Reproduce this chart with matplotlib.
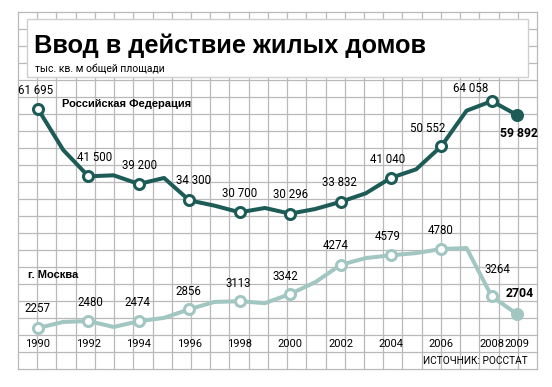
import numpy as np
import matplotlib
matplotlib.use('Agg')
import matplotlib.pyplot as plt
from matplotlib import transforms
from matplotlib.patches import Rectangle

# data, thousand sq. m of total floor area
years = list(range(1990, 2010))
russia = [61695, 49400, 41500, 41800, 39200, 41000, 34300, 32700, 30700, 32000,
          30296, 31700, 33832, 36400, 41040, 43600, 50552, 61200, 64058, 59892]
moscow = [2257, 2450, 2480, 2290, 2474, 2580, 2856, 3090, 3113, 3050,
          3342, 3720, 4274, 4490, 4579, 4650, 4780, 4810, 3264, 2704]
label_years = [1990, 1992, 1994, 1996, 1998, 2000, 2002, 2004, 2006, 2008, 2009]

title = 'Ввод в действие жилых домов'
subtitle = 'тыс. кв. м общей площади'
russia_name = 'Российская Федерация'
moscow_name = 'г. Москва'
source = 'ИСТОЧНИК: РОССТАТ'

# label offsets in pixels (dx, dy up) for each labelled year
russia_off = [(-2, 19), (6, 19), (1, 18), (4, 20), (0, 19), (0, 19),
              (-1, 19), (-3, 18), (-14, 18), (-21, 13), (2, -18)]
moscow_off = [(-1, 19), (2, 19), (-1, 19), (-1, 18), (-1, 18), (-5, 18),
              (-5, 19), (-3, 19), (-1, 19), (6, 27), (3, 21)]

dark = '#1d5b57'
light = '#a2c6c2'
grid_c = '#b9b9b9'
narrow = ['Roboto', 'DejaVu Sans']
boldf = ['Liberation Sans', 'DejaVu Sans']

W, H = 552, 387
fig = plt.figure(figsize=(W / 100, H / 100), dpi=100)

# background: graph paper + title box, in pixel coords
bg = fig.add_axes([0, 0, 1, 1])
bg.set_xlim(0, W)
bg.set_ylim(H, 0)
bg.axis('off')
gx0, gx1, gy0, gy1 = 18, 537, 12, 369
for x in np.linspace(gx0, gx1, 28):
    bg.plot([x, x], [gy0, gy1], color=grid_c, lw=0.9, zorder=0)
for y in np.linspace(gy0, gy1, 22):
    bg.plot([gx0, gx1], [y, y], color=grid_c, lw=0.9, zorder=0)
bg.add_patch(Rectangle((27, 19), 501, 58, facecolor='white', edgecolor='#cfcfcf', lw=1, zorder=1))
bg.text(34, 53, title, fontsize=18.3, fontweight='bold', family=boldf,
        va='baseline', ha='left', zorder=2)
bg.text(35, 70, subtitle, fontsize=7.5, family=narrow, va='center', ha='left', zorder=2)
bg.text(62, 104, russia_name, fontsize=8, fontweight='bold', family=boldf,
        va='center', ha='left', zorder=2)
bg.text(28, 275, moscow_name, fontsize=8, fontweight='bold', family=boldf,
        va='center', ha='left', zorder=2)
bg.text(528, 361, source, fontsize=7.3, family=narrow, va='center', ha='right', zorder=2)

# data axes: two independent value scales sharing the year axis
px_per_year = (517 - 38) / 19
xl = (1990 - 38 / px_per_year, 1990 + (W - 38) / px_per_year)

ax = fig.add_axes([0, 0, 1, 1])
ax.patch.set_alpha(0)
ax.set_xlim(*xl)
rk = 300.0
ax.set_ylim(61695 - (H - 109) * rk, 61695 + 109 * rk)
ax.axis('off')

ax2 = ax.twinx()
ax2.set_position([0, 0, 1, 1])
ax2.patch.set_alpha(0)
mk = 31.94
ax2.set_ylim(2257 - (H - 328) * mk, 2257 + 328 * mk)
ax2.axis('off')


def draw_series(a, vals, color, offs, fmt):
    a.plot(years, vals, color=color, lw=2.9, solid_joinstyle='round', zorder=3)
    lv = [vals[years.index(y)] for y in label_years]
    a.plot(label_years[:-1], lv[:-1], 'o', ms=7.2, mfc='white', mec=color, mew=2.2, zorder=4)
    a.plot(label_years[-1:], lv[-1:], 'o', ms=9.4, mfc=color, mec=color, mew=0, zorder=4)
    for i, (y, v) in enumerate(zip(label_years, lv)):
        last = i == len(label_years) - 1
        a.annotate(fmt(v), (y, v), xytext=offs[i], textcoords='offset pixels',
                   ha='center', va='center', fontsize=8.3 if not last else 8.8,
                   fontweight='bold' if last else 'normal', family=narrow, zorder=5)


draw_series(ax, russia, dark, russia_off, lambda v: f'{v:,}'.replace(',', ' '))
draw_series(ax2, moscow, light, moscow_off, lambda v: str(v))

# year labels
tr = transforms.blended_transform_factory(ax.transData, bg.transData)
for y in label_years:
    ax.text(y, 344, str(y), transform=tr, ha='center', va='center', fontsize=8, family=narrow)

fig.savefig('out.png', dpi=100)
